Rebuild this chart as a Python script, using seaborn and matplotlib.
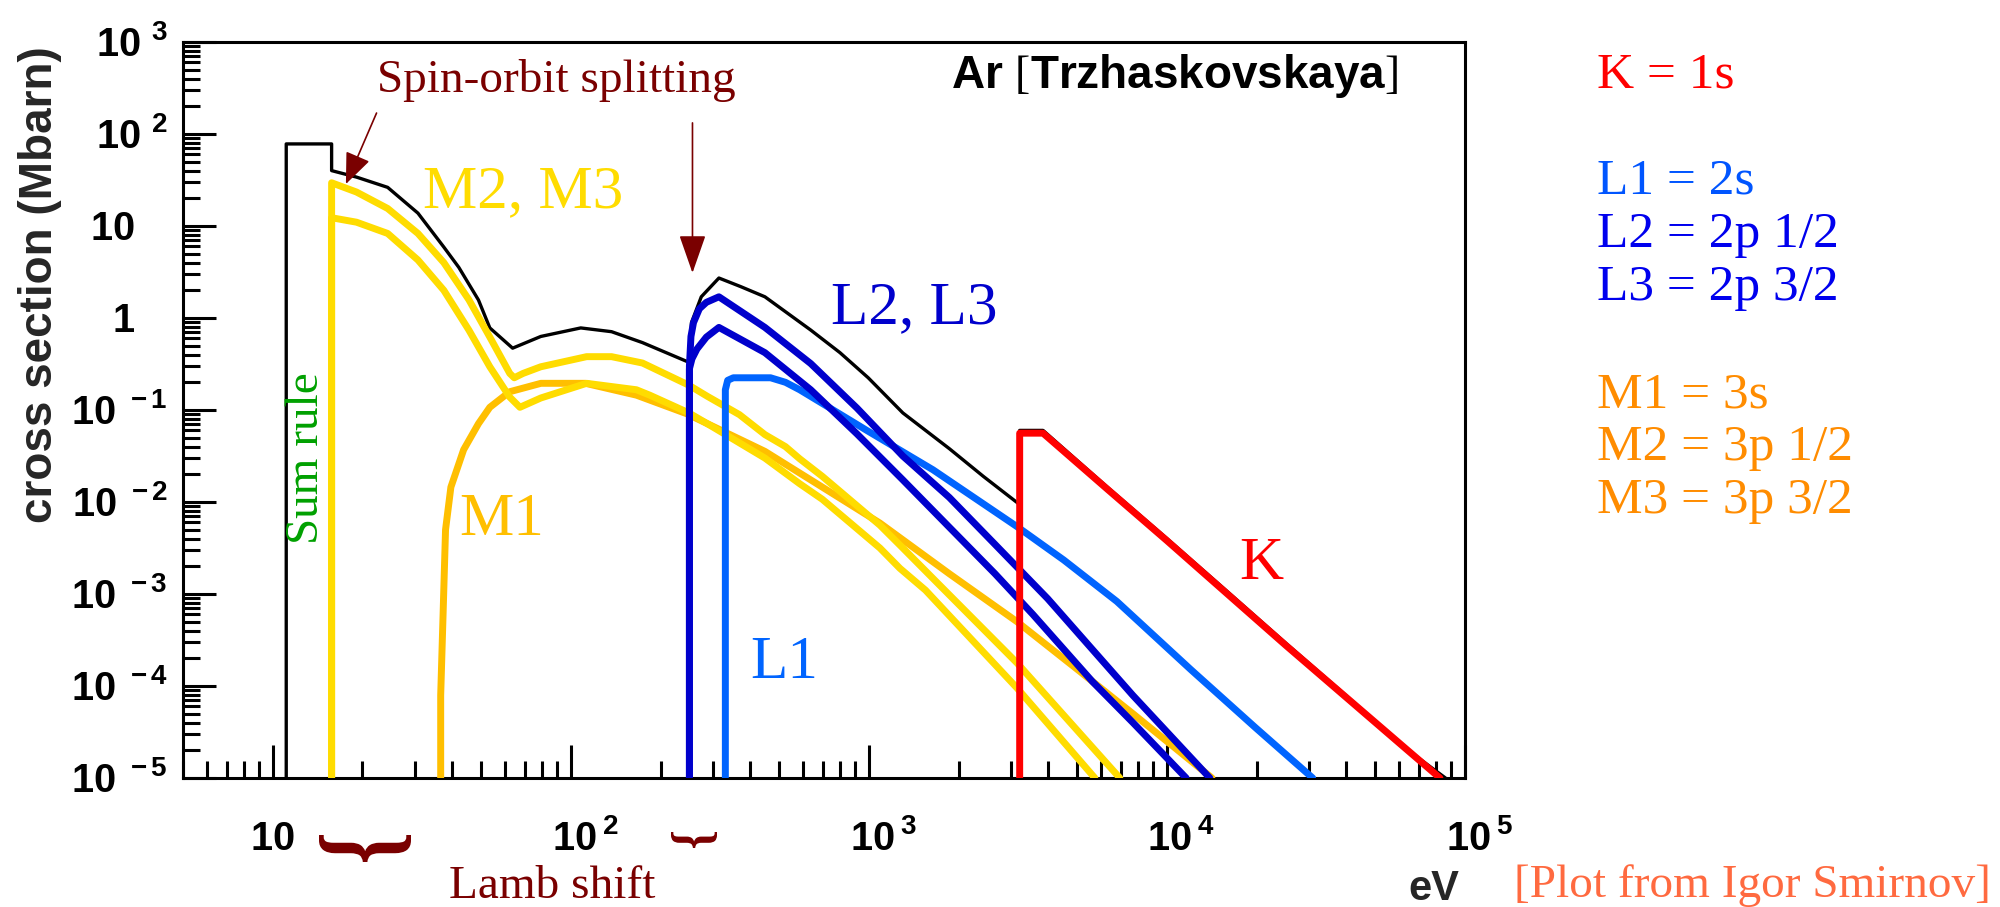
import matplotlib
matplotlib.use("Agg")
import matplotlib.pyplot as plt
import seaborn as sns
import pandas as pd
import numpy as np
from matplotlib.ticker import LogLocator, NullFormatter
from matplotlib.textpath import TextPath
from matplotlib.font_manager import FontProperties
from matplotlib.patches import PathPatch
from matplotlib.transforms import Affine2D, IdentityTransform, ScaledTranslation

# ---------------- data (photon energy in eV, cross section in Mbarn) ----------------
E_total = [11.1, 11.1, 15.76, 15.76, 19.1, 24.3, 30.7, 37.5, 42.1, 49.0, 53.5, 63.8, 79.3, 108, 137, 174,
           249, 250, 254, 274, 314, 372, 448, 638, 800, 995, 1300, 1862, 2421, 3190, 3206, 3206, 3840,
           6310, 10000, 15850, 25100, 39800, 63100, 86000]
S_total = [1e-5, 78, 78, 40, 34, 26.3, 13.8, 5.9, 3.55, 1.57, 0.78, 0.47, 0.63, 0.78, 0.71, 0.54,
           0.33, 0.32, 0.89, 1.70, 2.72, 2.19, 1.70, 0.74, 0.42, 0.224, 0.093, 0.038, 0.019, 0.0095, 0.0095,
           0.06, 0.06, 0.0145, 0.0040, 0.00108, 2.9e-4, 7.9e-5, 2.1e-5, 1e-5]

E_K = [3206, 3206, 3840, 6310, 10000, 15850, 25100, 39800, 63100, 82400]
S_K = [1e-5, 0.056, 0.056, 0.0138, 0.0038, 0.00102, 2.75e-4, 7.6e-5, 2.1e-5, 1e-5]

E_L1 = [330, 330, 336, 351, 468, 525, 586, 759, 984, 1641, 3141, 4508, 6792, 12020, 19770, 30830]
S_L1 = [1e-5, 0.166, 0.21, 0.224, 0.224, 0.20, 0.166, 0.10, 0.060, 0.0224, 0.0054, 0.00234, 8.3e-4,
        1.51e-4, 3.55e-5, 1e-5]

E_L2 = [250, 250, 255, 265, 285, 314, 448, 638, 912, 1300, 1853, 2650, 3550, 5620, 7690, 11600]
S_L2 = [1e-5, 0.28, 0.36, 0.46, 0.62, 0.79, 0.42, 0.166, 0.055, 0.0174, 0.0054, 0.00166, 6.0e-4,
        1.12e-4, 4.0e-5, 1e-5]

E_L3 = [250, 250, 253, 258, 270, 285, 314, 448, 638, 912, 1300, 1862, 2630, 3980, 5620, 7690, 13930]
S_L3 = [1e-5, 0.30, 0.63, 0.89, 1.26, 1.48, 1.70, 0.79, 0.32, 0.105, 0.0316, 0.0112, 0.00355, 8.9e-4,
        2.5e-4, 7.9e-5, 1e-5]

E_M1 = [36.6, 36.6, 37.3, 38.0, 39.6, 43.7, 49.0, 53.5, 62.4, 79.4, 112, 166, 245, 448, 708, 1089, 1862,
        3141, 5012, 7690, 14160]
S_M1 = [1e-5, 7.9e-5, 6.3e-4, 0.005, 0.0145, 0.037, 0.071, 0.107, 0.158, 0.195, 0.195, 0.145, 0.091,
        0.0355, 0.0141, 0.0059, 0.00166, 5.0e-4, 1.51e-4, 5.0e-5, 1e-5]

E_M2 = [15.76, 15.76, 19.1, 24.3, 30.7, 37.5, 45.5, 53.5, 62.4, 67.5, 79.3, 113, 166, 184, 249, 287, 448,
        586, 698, 1089, 1271, 1549, 3141, 5730]
S_M2 = [1e-5, 12.3, 11.0, 8.3, 4.27, 2.0, 0.74, 0.295, 0.138, 0.107, 0.135, 0.195, 0.166, 0.145, 0.093,
        0.071, 0.030, 0.0158, 0.0107, 0.00316, 0.0019, 0.0011, 9.5e-5, 1e-5]

E_M3 = [15.76, 15.76, 19.1, 24.3, 30.7, 37.5, 45.5, 53.5, 62.4, 64.6, 69.2, 79.3, 113, 137, 174, 249, 287,
        368, 448, 525, 586, 698, 1089, 1271, 1698, 3141, 6950]
S_M3 = [1e-5, 29.5, 23.4, 15.5, 8.3, 4.0, 1.58, 0.62, 0.25, 0.224, 0.25, 0.295, 0.38, 0.38, 0.324, 0.186,
        0.141, 0.089, 0.054, 0.040, 0.0295, 0.019, 0.0056, 0.0034, 0.00132, 1.78e-4, 1e-5]

x_ticks = [10, 100, 1000, 10000, 100000]
x_tick_labels = [r"$10$", r"$10^{\;2}$", r"$10^{\;3}$", r"$10^{\;4}$", r"$10^{\;5}$"]
y_ticks = [1e-5, 1e-4, 1e-3, 1e-2, 1e-1, 1, 10, 100, 1000]
y_tick_labels = [r"$10^{\;\;-5}$", r"$10^{\;\;-4}$", r"$10^{\;\;-3}$", r"$10^{\;\;-2}$", r"$10^{\;\;-1}$",
                 r"$1$", r"$10$", r"$10^{\;\;2}$", r"$10^{\;\;3}$"]

shell_legend = ["K = 1s", "L1 = 2s", "L2 = 2p 1/2", "L3 = 2p 3/2", "M1 = 3s", "M2 = 3p 1/2", "M3 = 3p 3/2"]

# ---------------- style ----------------
sns.set_theme(style="white")
plt.rcParams.update({
    "font.family": ["Liberation Sans", "DejaVu Sans"],
    "mathtext.fontset": "custom",
    "mathtext.bf": "Liberation Sans:bold",
    "mathtext.rm": "Liberation Serif",
    "mathtext.it": "Liberation Serif:italic",
    "mathtext.default": "bf",
})

C_YEL = "#ffdc00"
C_ORA = "#ffbf00"
C_DBL = "#0000cc"
C_LBL = "#0064ff"
C_RED = "#ff0000"
C_DRED = "#7a0000"
C_GRN = "#00a000"
SERIF = ["Liberation Serif", "DejaVu Serif"]

W, H = 2000, 907
fig = plt.figure(figsize=(W / 100, H / 100), dpi=100)
fig.patch.set_facecolor("white")
ax = fig.add_axes([183 / W, 1 - 778 / H, 1282 / W, 736 / H])
ax.set_facecolor("white")
ax.set_xscale("log")
ax.set_yscale("log")

series = [
    (E_total, S_total, "black", 2.4, 2.0),
    (E_M1, S_M1, C_ORA, 5.0, 3.0),
    (E_M2, S_M2, C_YEL, 5.0, 3.1),
    (E_M3, S_M3, C_YEL, 5.0, 3.2),
    (E_L1, S_L1, C_LBL, 5.0, 3.3),
    (E_L2, S_L2, C_DBL, 5.0, 3.4),
    (E_L3, S_L3, C_DBL, 5.0, 3.5),
    (E_K, S_K, C_RED, 5.0, 3.6),
]
for E, S, col, lw, z in series:
    df = pd.DataFrame({"E": E, "S": S})
    sns.lineplot(data=df, x="E", y="S", ax=ax, sort=False, estimator=None, color=col,
                 linewidth=lw, zorder=z, solid_joinstyle="round")

ax.set_xlim(5, 1e5)
ax.set_ylim(1e-5, 1e3)

for s in ax.spines.values():
    s.set_linewidth(2.2)
    s.set_color("black")
    s.set_visible(True)

ax.tick_params(which="both", direction="in", top=False, right=False, bottom=True, left=True,
               width=2.2, color="black", labelcolor="black")
ax.tick_params(which="major", length=24)
ax.tick_params(which="minor", length=12)
ax.tick_params(axis="x", which="major", pad=52)
ax.tick_params(axis="y", which="major", pad=11)

ax.set_xticks(x_ticks, x_tick_labels, va="baseline", ha="center", fontsize=28.5)
ax.set_yticks(y_ticks, y_tick_labels, va="baseline", ha="right", fontsize=28.5)
ax.xaxis.set_minor_locator(LogLocator(base=10, subs=np.arange(2, 10), numticks=60))
ax.yaxis.set_minor_locator(LogLocator(base=10, subs=np.arange(2, 10), numticks=60))
ax.xaxis.set_minor_formatter(NullFormatter())
ax.yaxis.set_minor_formatter(NullFormatter())

# ROOT-like label placement: base "10" centred on tick, exponent sticking out
for tick, lab in zip(ax.xaxis.get_major_ticks(), x_tick_labels):
    dx = 14 if "^" in lab else 0
    tick.label1.set_transform(tick.label1.get_transform() +
                              ScaledTranslation(dx / 100, 0, fig.dpi_scale_trans))
for tick, lab in zip(ax.yaxis.get_major_ticks(), y_tick_labels):
    dx = 0 if "^" in lab else -33
    tick.label1.set_transform(tick.label1.get_transform() +
                              ScaledTranslation(dx / 100, -14 / 100, fig.dpi_scale_trans))

ax.set_ylabel("cross section (Mbarn)", fontsize=33, fontweight="bold", va="center")
ax.yaxis.set_label_coords((40 - 183) / 1282, (778 - 285) / 736)
ax.set_xlabel("eV", fontsize=30, fontweight="bold", ha="right", va="baseline")
ax.xaxis.set_label_coords((1459 - 183) / 1282, (778 - 900) / 736)


def P(x, y):
    return x / W, 1 - y / H


# tag inside the frame
fig.text(*P(1398, 88), r"Ar $\mathrm{[}$Trzhaskovskaya$\mathrm{]}$", fontsize=33,
         fontweight="bold", ha="right", va="baseline", color="black")

# annotations on the plot
fig.text(*P(377, 92), "Spin-orbit splitting", fontsize=34, family=SERIF, color=C_DRED,
         ha="left", va="baseline")
fig.text(*P(423, 207), "M2, M3", fontsize=44, family=SERIF, color=C_YEL, ha="left", va="baseline")
fig.text(*P(831, 323), "L2, L3", fontsize=44, family=SERIF, color=C_DBL, ha="left", va="baseline")
fig.text(*P(750, 678), "L1", fontsize=44, family=SERIF, color=C_LBL, ha="left", va="baseline")
fig.text(*P(459, 535), "M1", fontsize=44, family=SERIF, color=C_ORA, ha="left", va="baseline")
fig.text(*P(1239, 579), "K", fontsize=44, family=SERIF, color=C_RED, ha="left", va="baseline")
fig.text(*P(307, 458), "Sum rule", fontsize=34, family=SERIF, color=C_GRN, rotation=90,
         ha="center", va="center")
fig.text(*P(449, 898), "Lamb shift", fontsize=34, family=SERIF, color=C_DRED, ha="left", va="baseline")
fig.text(*P(1514, 897), "[Plot from Igor Smirnov]", fontsize=34, family=SERIF, color="#ff6a40",
         ha="left", va="baseline")

# shell legend on the right
leg_colors = [C_RED, "#0055ff", "#0000ee", "#0000ee", "#ff8c00", "#ff8c00", "#ff8c00"]
leg_base = [87, 193, 247, 300, 407, 460, 513]
for txt, col, yb in zip(shell_legend, leg_colors, leg_base):
    fig.text(*P(1597, yb), txt, fontsize=37, family=SERIF, color=col, ha="left", va="baseline")

# arrows
ax.annotate("", xy=(17.6, 28.6), xytext=(22.3, 169),
            arrowprops=dict(arrowstyle="-|>,head_length=0.97,head_width=0.4", mutation_scale=20,
                            color=C_DRED, lw=1.2, shrinkA=0, shrinkB=0), zorder=6)
ax.annotate("", xy=(256, 3.09), xytext=(256, 132),
            arrowprops=dict(arrowstyle="-|>,head_length=1.2,head_width=0.42", mutation_scale=20,
                            color=C_DRED, lw=1.2, shrinkA=0, shrinkB=0), zorder=6)

# curly under-braces (Lamb shift)
brace_fp = FontProperties(family="Liberation Serif", weight="bold")


def brace(x0, x1, y_top, y_bot):
    tp = TextPath((0, 0), "}", size=100, prop=brace_fp)
    ext = tp.get_extents()
    tr = (Affine2D().translate(-ext.x0, -ext.y0).scale(1 / ext.width, 1 / ext.height)
          .rotate_deg(-90).translate(0, 1)
          .scale(x1 - x0, y_bot - y_top).translate(x0, H - y_bot))
    path = tr.transform_path(tp)
    fig.add_artist(PathPatch(path, transform=IdentityTransform(), facecolor=C_DRED,
                             edgecolor="none"))


brace(319, 411, 835, 862)
brace(671, 717, 832, 848)

fig.savefig("out.png", dpi=100, facecolor="white")
